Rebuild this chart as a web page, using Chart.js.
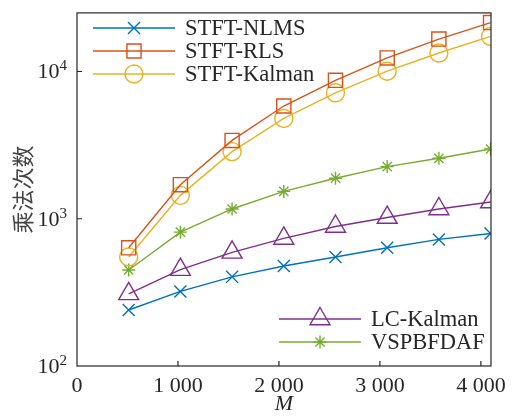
<!DOCTYPE html>
<html>
<head>
<meta charset="utf-8">
<script src="https://cdn.jsdelivr.net/npm/chart.js@4/dist/chart.umd.min.js"></script>
<style>
  html, body { margin: 0; padding: 0; background: #fff; }
  #wrap { width: 513px; height: 420px; }
</style>
</head>
<body>
<div id="wrap"><canvas id="mulChart" width="513" height="420"></canvas></div>
<script>
// filter length M
const lengths = [512, 1024, 1536, 2048, 2560, 3072, 3584, 4096];

// multiplications per sample
const nlms     = [240, 321, 403, 478, 550, 635, 724, 794];
const rls      = [635, 1702, 3404, 5830, 8710, 12360, 16600, 21500];
const kalman   = [550, 1442, 2855, 4800, 7170, 10050, 13350, 17300];
const lcKalman = [309, 451, 591, 735, 886, 1019, 1165, 1298];
const vspbfdaf = [449, 811, 1165, 1534, 1885, 2260, 2573, 2977];

const xTicks = [0, 1000, 2000, 3000, 4000];
const yTicks = [100, 1000, 10000];

const serif = '"Liberation Serif", "Times New Roman", serif';
const textColor = '#262626';

function series(label, values, color, style, radius) {
  return {
    label: label,
    data: values.map((v, i) => ({ x: lengths[i], y: v })),
    borderColor: color,
    backgroundColor: 'transparent',
    borderWidth: 1.4,
    pointStyle: style,
    pointRadius: radius,
    pointHoverRadius: radius,
    pointBorderColor: color,
    pointBackgroundColor: 'transparent',
    pointBorderWidth: 1.4,
    tension: 0,
    fill: false
  };
}

const datasets = [
  series('STFT-NLMS', nlms, '#0072BD', 'crossRot', 8.5),
  series('STFT-RLS', rls, '#D95319', 'rect', 10),
  series('STFT-Kalman', kalman, '#EDB120', 'circle', 9),
  series('LC-Kalman', lcKalman, '#7E2F8E', 'triangle', 11.5),
  series('VSPBFDAF', vspbfdaf, '#77AC30', 'star', 6.5)
];

// two legend groups: upper left and lower right
const legendGroups = [
  { items: [0, 1, 2], x0: 93, y0: 28 },
  { items: [3, 4], x0: 279, y0: 319 }
];

const framePlugin = {
  id: 'frame',
  afterDraw(chart) {
    const { ctx, chartArea: a, scales } = chart;
    ctx.save();
    ctx.strokeStyle = textColor;
    ctx.lineWidth = 1.2;
    ctx.strokeRect(a.left, a.top, a.right - a.left, a.bottom - a.top);

    // inward ticks
    ctx.beginPath();
    xTicks.forEach(t => {
      const px = scales.x.getPixelForValue(t);
      if (t > 0) { ctx.moveTo(px, a.bottom); ctx.lineTo(px, a.bottom - 5); }
    });
    yTicks.forEach(t => {
      const py = scales.y.getPixelForValue(t);
      if (t > 100) { ctx.moveTo(a.left, py); ctx.lineTo(a.left + 5, py); }
    });
    ctx.stroke();

    // y tick labels 10^n
    ctx.fillStyle = textColor;
    ctx.textBaseline = 'alphabetic';
    yTicks.forEach(t => {
      const py = scales.y.getPixelForValue(t);
      const exp = String(Math.round(Math.log10(t)));
      ctx.font = '15px ' + serif;
      const ew = ctx.measureText(exp).width;
      ctx.textAlign = 'left';
      ctx.fillText(exp, a.left - 10 - ew, py - 1);
      ctx.font = '22px ' + serif;
      ctx.textAlign = 'right';
      ctx.fillText('10', a.left - 10 - ew, py + 7);
    });

    // y title
    ctx.save();
    ctx.translate(23, (a.top + a.bottom) / 2);
    ctx.rotate(-Math.PI / 2);
    ctx.font = '22px "Noto Sans CJK SC"';
    ctx.fillStyle = '#444';
    ctx.textAlign = 'center';
    ctx.textBaseline = 'middle';
    ctx.fillText('乘法次数', 0, 0);
    ctx.restore();

    // legends
    legendGroups.forEach(g => {
      g.items.forEach((idx, row) => {
        const ds = chart.data.datasets[idx];
        const y = g.y0 + row * 23;
        ctx.strokeStyle = ds.borderColor;
        ctx.fillStyle = 'rgba(0,0,0,0)';
        ctx.lineWidth = ds.borderWidth;
        ctx.beginPath();
        ctx.moveTo(g.x0, y);
        ctx.lineTo(g.x0 + 82, y);
        ctx.stroke();
        Chart.helpers.drawPoint(ctx, {
          pointStyle: ds.pointStyle,
          radius: ds.pointRadius,
          rotation: 0,
          borderWidth: ds.pointBorderWidth
        }, g.x0 + 41, y);
        ctx.fillStyle = textColor;
        ctx.font = '22.5px ' + serif;
        ctx.textAlign = 'left';
        ctx.textBaseline = 'middle';
        ctx.fillText(ds.label, g.x0 + 92, y + 1);
      });
    });
    ctx.restore();
  }
};

new Chart(document.getElementById('mulChart').getContext('2d'), {
  type: 'line',
  data: { datasets: datasets },
  options: {
    responsive: false,
    animation: false,
    layout: { padding: { top: 10, right: 15, left: 0, bottom: 0 } },
    plugins: { legend: { display: false }, tooltip: { enabled: false } },
    scales: {
      x: {
        type: 'linear',
        min: 0,
        max: 4100,
        afterBuildTicks: s => { s.ticks = xTicks.map(v => ({ value: v })); },
        ticks: {
          color: textColor,
          font: { family: serif, size: 22 },
          padding: 7,
          maxRotation: 0,
          callback: v => String(v).replace(/\B(?=(\d{3})+$)/g, ' ')
        },
        grid: { display: false, drawTicks: false },
        border: { display: false },
        title: {
          display: true,
          text: 'M',
          color: textColor,
          font: { family: serif, size: 22, style: 'italic' },
          padding: { top: -4, bottom: 3 }
        },
        afterFit: s => { s.height = 54; }
      },
      y: {
        type: 'logarithmic',
        min: 100,
        max: 25000,
        ticks: { display: false },
        grid: { display: false, drawTicks: false },
        border: { display: false },
        afterFit: s => { s.width = 77; }
      }
    }
  },
  plugins: [framePlugin]
});
</script>
</body>
</html>
